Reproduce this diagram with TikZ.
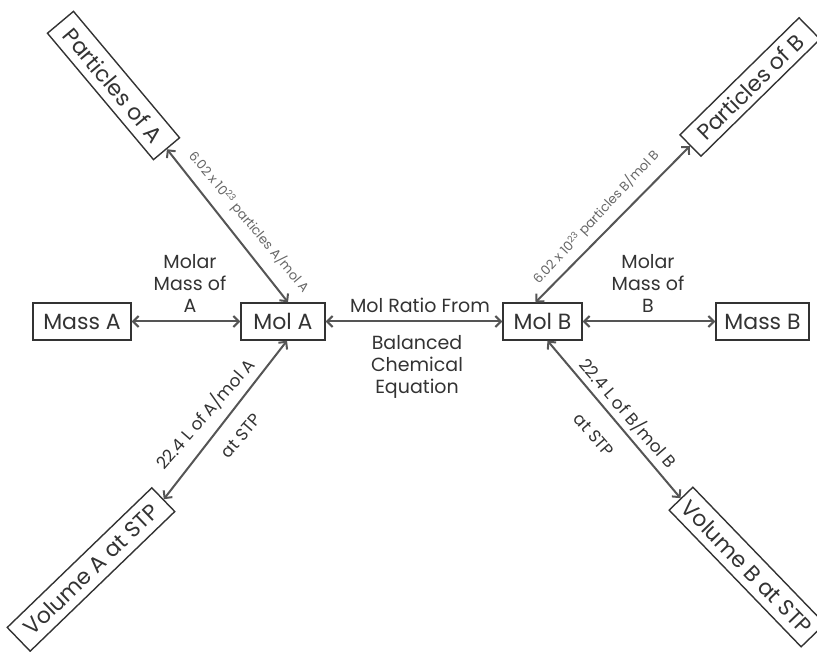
\documentclass[tikz,border=0pt]{standalone}
\usepackage{fontspec}
\setmainfont{Poppins}
\usetikzlibrary{arrows.meta}
\definecolor{txt}{HTML}{333333}
\definecolor{ln}{HTML}{555555}
\definecolor{ptxt}{HTML}{666666}
\begin{document}
\begin{tikzpicture}[x=1pt,y=-1pt,
 box/.style={draw=txt, line width=1.4pt, text=txt, font=\fontsize{22}{24}\selectfont, minimum height=37pt, inner sep=2pt, anchor=center},
 conn/.style={draw=ln, line width=2pt, {Straight Barb[length=5.5pt,width=11pt]}-{Straight Barb[length=5.5pt,width=11pt]}},
 lab/.style={text=txt, font=\fontsize{19}{22}\selectfont, align=center, inner sep=0pt},
 slab/.style={text=txt, font=\fontsize{17}{20}\selectfont, inner sep=0pt},
 plab/.style={text=ptxt, font=\fontsize{13}{15}\selectfont, inner sep=0pt}]
\useasboundingbox (0,0) rectangle (817,652);
% horizontal boxes
\node[box, minimum width=98pt] (massA) at (82,321.5) {Mass A};
\node[box, minimum width=84pt] (molA) at (283,321.5) {Mol A};
\node[box, minimum width=79pt] (molB) at (542.5,321.5) {Mol B};
\node[box, minimum width=93pt] (massB) at (762.5,321.5) {Mass B};
% diagonal boxes
\node[box, minimum width=165pt, minimum height=34pt, rotate=-50] (pa) at (113.5,85.5) {Particles of A};
\node[box, minimum width=167pt, minimum height=30pt, rotate=44.5] (pb) at (750,87) {Particles of B};
\node[box, minimum width=201pt, minimum height=33pt, rotate=44] (va) at (91,569.5) {Volume A at STP};
\node[box, minimum width=190pt, minimum height=33pt, rotate=-46] (vb) at (747,567) {Volume B at STP};
% connectors
\draw[conn] (massA) -- (molA);
\draw[conn] (molA) -- (molB);
\draw[conn] (molB) -- (massB);
\draw[conn] (pa.east) -- ([xshift=5pt]molA.north);
\draw[conn] (pb.west) -- ([xshift=-7pt]molB.north);
\draw[conn] (va.east) -- ([xshift=4pt]molA.south);
\draw[conn] ([xshift=5pt]molB.south) -- (vb.west);
% labels
\node[lab] (lmA) at (190,283) {Molar\\Mass of\\A};
\node[lab] (lmB) at (648,283) {Molar\\Mass of\\B};
\node[lab] (lr1) at (420,305) {Mol Ratio From};
\node[lab] (lr2) at (417,367) {Balanced\\Chemical\\Equation};
\node[plab, rotate=-50] (lpA) at (249,222) {6.02 x 10\textsuperscript{23} particles A/mol A};
\node[plab, rotate=47] (lpB) at (596,217) {6.02 x 10\textsuperscript{23} particles B/mol B};
\node[slab, rotate=49] (lvA1) at (205,414) {22.4 L of A/mol A};
\node[slab, rotate=49] (lvA2) at (241,436) {at STP};
\node[slab, rotate=-49] (lvB1) at (628,413) {22.4 L of B/mol B};
\node[slab, rotate=-49] (lvB2) at (594,435) {at STP};
\end{tikzpicture}
\end{document}
